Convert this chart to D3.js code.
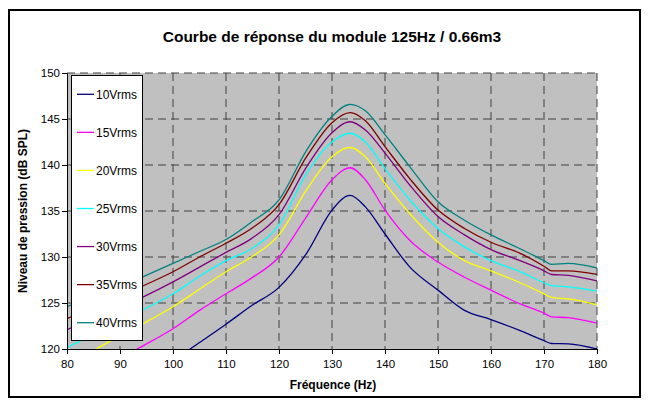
<!DOCTYPE html>
<html><head><meta charset="utf-8">
<script src="https://cdn.jsdelivr.net/npm/d3@7"></script>
<style>body{margin:0;background:#fff}svg{display:block}text{font-family:"Liberation Sans",Arial,sans-serif}</style>
</head><body>
<svg id="c" width="649" height="405"></svg>
<script>
const freq = [80, 85, 90, 94.5, 100, 105, 110, 114.8, 120, 125.2, 130, 133.4, 136.3, 140, 144.7, 150, 155, 160, 165.5, 170, 171.4, 174.6, 180];
const v10 = [null, null, null, null, 118.7, 120.7, 122.7, 124.7, 126.7, 130.4, 135.1, 136.7, 135.45, 132.5, 128.9, 126.4, 124.2, 123.2, 122.0, 120.9, 120.6, 120.55, 120.0];
const v15 = [null, null, 119.0, 120.4, 122.2, 124.2, 126.0, 127.7, 130.0, 134.4, 138.4, 139.7, 138.4, 135.1, 131.8, 129.45, 127.8, 126.4, 124.9, 123.9, 123.5, 123.4, 122.8];
const v20 = [117.5, 119.8, 121.4, 122.8, 124.6, 126.5, 128.4, 130.0, 132.4, 137.3, 140.9, 141.9, 140.9, 138.0, 134.7, 131.6, 129.6, 128.5, 127.2, 126.0, 125.6, 125.45, 124.8];
const v25 = [120.2, 121.5, 122.9, 124.3, 126.0, 127.9, 129.6, 130.9, 133.5, 139.1, 142.5, 143.45, 142.5, 139.6, 136.2, 133.1, 131.1, 129.6, 128.4, 127.2, 126.9, 126.75, 126.3];
const v30 = [122.1, 123.3, 124.5, 125.7, 127.3, 128.9, 130.5, 132.0, 134.6, 139.8, 143.5, 144.7, 143.8, 141.3, 137.8, 134.4, 132.4, 130.8, 129.6, 128.5, 128.1, 128.0, 127.4];
const v35 = [123.3, 124.5, 125.7, 126.9, 128.4, 130.0, 131.5, 133.1, 135.7, 140.9, 144.6, 145.7, 144.8, 142.0, 138.5, 135.1, 133.1, 131.6, 130.4, 129.0, 128.5, 128.5, 128.1];
const v40 = [124.6, 125.7, 126.8, 127.9, 129.3, 130.6, 131.9, 133.8, 136.2, 141.6, 145.3, 146.6, 145.9, 143.3, 139.8, 136.0, 134.0, 132.4, 130.9, 129.6, 129.2, 129.3, 128.8];
const seriesNames = ["10Vrms", "15Vrms", "20Vrms", "25Vrms", "30Vrms", "35Vrms", "40Vrms"];
const seriesColors = ["#000080", "#FF00FF", "#FFFF00", "#00FFFF", "#800080", "#800000", "#008080"];
const xTicks = [80, 90, 100, 110, 120, 130, 140, 150, 160, 170, 180];
const yTicks = [120, 125, 130, 135, 140, 145, 150];
const title = "Courbe de réponse du module 125Hz / 0.66m3";
const xTitle = "Fréquence (Hz)";
const yTitle = "Niveau de pression (dB SPL)";

const allValues = [v10, v15, v20, v25, v30, v35, v40];
const svg = d3.select("#c");
const L = 67, R = 597, T = 73, B = 349;
const x = d3.scaleLinear().domain([80, 180]).range([L, R]);
const y = d3.scaleLinear().domain([120, 150]).range([B, T]);

svg.append("rect").attr("x", 9).attr("y", 10).attr("width", 631).attr("height", 387)
  .attr("fill", "#fff").attr("stroke", "#000").attr("stroke-width", 2);

svg.append("text").attr("x", 332).attr("y", 42).attr("text-anchor", "middle")
  .attr("font-size", 15.5).attr("font-weight", "bold").text(title);

svg.append("rect").attr("x", L).attr("y", T).attr("width", R - L).attr("height", B - T).attr("fill", "#C0C0C0");

// grid
const g = svg.append("g");
g.selectAll(".vg").data(xTicks.slice(1)).join("line")
  .attr("x1", d => x(d)).attr("x2", d => x(d)).attr("y1", T).attr("y2", B)
  .attr("stroke", "#404040").attr("stroke-dasharray", "8,5");
g.selectAll(".hg").data(yTicks.slice(1)).join("line")
  .attr("x1", L).attr("x2", R).attr("y1", d => y(d)).attr("y2", d => y(d))
  .attr("stroke", "#404040").attr("stroke-dasharray", "8,5");

svg.append("clipPath").attr("id", "clip").append("rect")
  .attr("x", L).attr("y", T).attr("width", R - L).attr("height", B - T);

const line = d3.line().defined(d => d[1] !== null).x(d => x(d[0])).y(d => y(d[1])).curve(d3.curveMonotoneX);
const lines = svg.append("g").attr("clip-path", "url(#clip)");
allValues.forEach((vals, i) => {
  lines.append("path").datum(freq.map((f, j) => [f, vals[j]]))
    .attr("d", line).attr("fill", "none").attr("stroke", seriesColors[i]).attr("stroke-width", 1.3);
});

// axes
const xa = svg.append("g").attr("transform", `translate(0,${B})`)
  .call(d3.axisBottom(x).tickValues(xTicks).tickSize(5).tickPadding(6));
const ya = svg.append("g").attr("transform", `translate(${L},0)`)
  .call(d3.axisLeft(y).tickValues(yTicks).tickSize(5).tickPadding(2));
[xa, ya].forEach(a => {
  a.selectAll("text").attr("font-size", 11.5).attr("font-family", "Liberation Sans, Arial, sans-serif").attr("fill", "#000");
  a.selectAll("line").attr("stroke", "#000");
  a.select(".domain").attr("stroke", "#000");
});

svg.append("text").attr("x", 333).attr("y", 389).attr("text-anchor", "middle")
  .attr("font-size", 12).attr("font-weight", "bold").text(xTitle);
svg.append("text").attr("transform", `translate(27,${(T + B) / 2}) rotate(-90)`).attr("text-anchor", "middle")
  .attr("font-size", 12).attr("font-weight", "bold").text(yTitle);

// legend
const lg = svg.append("g");
lg.append("rect").attr("x", 71.5).attr("y", 75.5).attr("width", 71).attr("height", 265)
  .attr("fill", "#fff").attr("stroke", "#000");
const ly = d3.scaleLinear().domain([0, 6]).range([94.3, 322.7]);
seriesNames.forEach((n, i) => {
  lg.append("line").attr("x1", 77).attr("x2", 94).attr("y1", ly(i)).attr("y2", ly(i))
    .attr("stroke", seriesColors[i]).attr("stroke-width", 1.3);
  lg.append("text").attr("x", 96).attr("y", ly(i) + 4.3).attr("font-size", 12).text(n);
});
</script>
</body></html>
